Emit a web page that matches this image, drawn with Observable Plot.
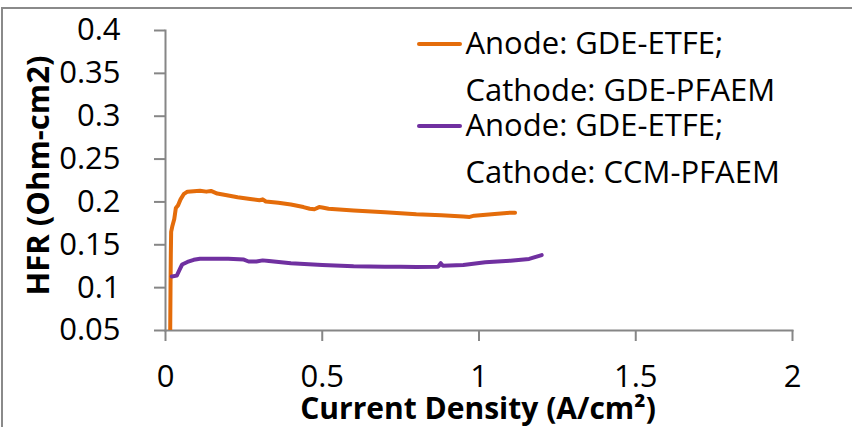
<!DOCTYPE html>
<html>
<head>
<meta charset="utf-8">
<script src="https://cdn.jsdelivr.net/npm/d3@7"></script>
<script src="https://cdn.jsdelivr.net/npm/@observablehq/plot@0.6"></script>
<style>
  html, body { margin: 0; padding: 0; background: #fff; }
  #wrap { position: relative; width: 852px; height: 427px; overflow: hidden; }
  #border { position: absolute; left: 1px; top: 7px; right: -10px; bottom: -10px;
            border-top: 2px solid #8a8a8a; border-left: 2px solid #8a8a8a; pointer-events: none; }
</style>
</head>
<body>
<div id="wrap"><div id="border"></div></div>
<script>
const seriesNames = ["Anode: GDE-ETFE; Cathode: GDE-PFAEM", "Anode: GDE-ETFE; Cathode: CCM-PFAEM"];
const legendLines = [["Anode: GDE-ETFE;", "Cathode: GDE-PFAEM"], ["Anode: GDE-ETFE;", "Cathode: CCM-PFAEM"]];
const seriesColors = ["#E46C0A", "#7030A0"];

const gdeX = [0.015, 0.016, 0.017, 0.018, 0.022, 0.028, 0.033, 0.040, 0.048, 0.058, 0.070, 0.090, 0.110, 0.130, 0.145, 0.165, 0.200, 0.230, 0.270, 0.300, 0.310, 0.320, 0.360, 0.400, 0.440, 0.460, 0.475, 0.490, 0.500, 0.520, 0.600, 0.700, 0.800, 0.880, 0.950, 0.970, 0.985, 1.050, 1.100, 1.115];
const gdeY = [0.050, 0.100, 0.140, 0.165, 0.172, 0.180, 0.193, 0.196, 0.203, 0.209, 0.212, 0.2125, 0.213, 0.212, 0.2128, 0.2098, 0.2075, 0.2055, 0.2035, 0.2020, 0.2030, 0.2005, 0.1990, 0.1970, 0.1940, 0.1920, 0.1915, 0.1940, 0.1935, 0.1920, 0.1900, 0.1880, 0.1855, 0.1845, 0.1830, 0.1825, 0.1840, 0.1860, 0.1875, 0.1875];

const ccmX = [0.020, 0.036, 0.045, 0.053, 0.070, 0.090, 0.110, 0.150, 0.200, 0.250, 0.265, 0.290, 0.310, 0.330, 0.400, 0.500, 0.600, 0.700, 0.750, 0.800, 0.870, 0.878, 0.885, 0.950, 1.020, 1.100, 1.160, 1.200];
const ccmY = [0.113, 0.114, 0.121, 0.127, 0.130, 0.1325, 0.1337, 0.1337, 0.1337, 0.1327, 0.1305, 0.1305, 0.1318, 0.1310, 0.1285, 0.1265, 0.1250, 0.1245, 0.1245, 0.1240, 0.1245, 0.1285, 0.1255, 0.1265, 0.1295, 0.1315, 0.1335, 0.1380];

const xTicks = [0, 0.5, 1, 1.5, 2];
const yTicks = [0.05, 0.1, 0.15, 0.2, 0.25, 0.3, 0.35, 0.4];
const xTitle = "Current Density (A/cm\u00B2)";
const yTitle = "HFR (Ohm-cm2)";

const data = [
  ...gdeX.map((x, i) => ({x, y: gdeY[i], s: seriesNames[0]})),
  ...ccmX.map((x, i) => ({x, y: ccmY[i], s: seriesNames[1]}))
];

const FONT = "Open Sans";
const axisGray = "#868686";

const legendTextMarks = legendLines.flatMap((lines, i) => lines.map((t, j) =>
  Plot.text([t], {
    text: d => d, frameAnchor: "top-left", textAnchor: "start", lineAnchor: "middle",
    dx: 300, dy: 13.5 + i * 82 + j * 47, fontSize: 31, fill: "#000"
  })
));

const legendSwatches = (index, scales, values, dims) => {
  const g = d3.create("svg:g");
  seriesColors.forEach((c, i) => {
    g.append("line")
      .attr("x1", dims.marginLeft + 254).attr("x2", dims.marginLeft + 295)
      .attr("y1", dims.marginTop + 14 + i * 82).attr("y2", dims.marginTop + 14 + i * 82)
      .attr("stroke", c).attr("stroke-width", 4).attr("stroke-linecap", "round");
  });
  return g.node();
};

const chart = Plot.plot({
  width: 852, height: 427,
  marginLeft: 165, marginRight: 60, marginTop: 30, marginBottom: 97,
  style: {fontFamily: FONT, background: "transparent"},
  x: {domain: [0, 2]},
  y: {domain: [0.05, 0.4]},
  color: {domain: seriesNames, range: seriesColors},
  marks: [
    Plot.frame({anchor: "left", stroke: axisGray, strokeWidth: 2}),
    Plot.frame({anchor: "bottom", stroke: axisGray, strokeWidth: 2}),
    Plot.axisY({ticks: yTicks, tickFormat: d => String(d), tickSize: 11, tickPadding: 34,
                fontSize: 31, stroke: axisGray, strokeWidth: 2, label: null, color: "#000"}),
    Plot.axisX({ticks: xTicks, tickFormat: d => String(d), tickSize: 11, tickPadding: 23,
                fontSize: 31, stroke: axisGray, strokeWidth: 2, label: null, color: "#000"}),
    Plot.line(data, {x: "x", y: "y", z: "s", stroke: "s", strokeWidth: 4,
                     strokeLinejoin: "round", strokeLinecap: "round", clip: true}),
    Plot.text([yTitle], {text: d => d, frameAnchor: "left", rotate: -90, textAnchor: "middle",
                         lineAnchor: "middle", dx: -126, dy: -5, fontSize: 31, fontWeight: "bold", fill: "#000"}),
    Plot.text([xTitle], {text: d => d, frameAnchor: "bottom", textAnchor: "middle",
                         lineAnchor: "middle", dx: -1, dy: 79, fontSize: 30, fontWeight: "bold", fill: "#000"}),
    legendSwatches,
    ...legendTextMarks
  ]
});
document.getElementById("wrap").prepend(chart);
</script>
</body>
</html>
